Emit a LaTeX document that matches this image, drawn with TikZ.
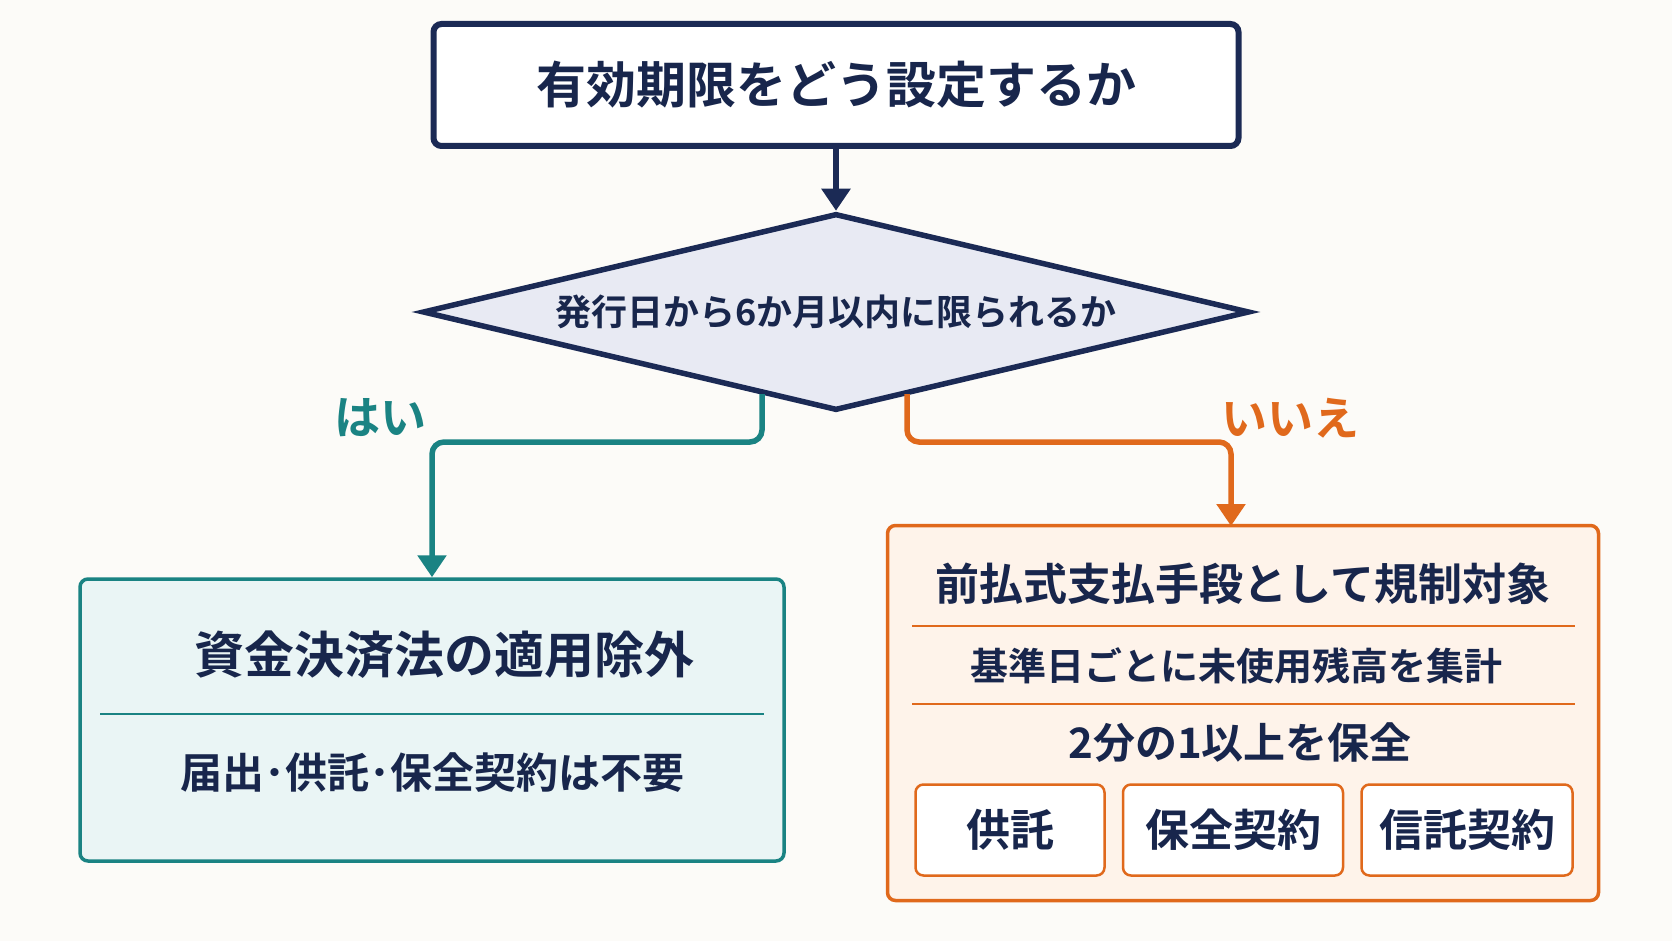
\documentclass[tikz,border=0pt]{standalone}
\usepackage{fontspec}
\setmainfont{Noto Sans CJK JP}[BoldFont={* Bold}]
\usetikzlibrary{shapes.geometric,arrows.meta}
\definecolor{navy}{HTML}{1B2A55}
\definecolor{teal1}{HTML}{1A8383}
\definecolor{orng}{HTML}{E0691C}
\definecolor{bg}{HTML}{FCFBF8}
\definecolor{tfill}{HTML}{EAF5F5}
\definecolor{ofill}{HTML}{FEF3EA}
\definecolor{dfill}{HTML}{E8EAF3}
\begin{document}
\begin{tikzpicture}[x=1pt,y=-1pt,
  txt/.style={font=\bfseries\fontsize{#1}{#1}\selectfont,text=navy!90!black},
  sm/.style={draw=orng,line width=2.5pt,fill=white,rounded corners=8pt,minimum height=91pt,inner sep=0pt},
  arr/.style={line width=5.5pt,-{Triangle[length=22pt,width=28pt]},rounded corners=12pt}]
\fill[bg] (0,0) rectangle (1672,941);
\useasboundingbox (0,0) rectangle (1672,941);
\node[draw=navy,line width=6pt,fill=white,rounded corners=8pt,minimum width=805pt,minimum height=122pt,txt=50] (top) at (836,85) {有効期限をどう設定するか};
\node[diamond,draw=navy,line width=5.5pt,fill=dfill,minimum width=827pt,minimum height=197pt,inner sep=0pt,aspect=4.2] (dia) at (836,312) {};
\node[txt=36] at (836,312) {発行日から6か月以内に限られるか};
\node[draw=teal1,line width=3.5pt,fill=tfill,rounded corners=8pt,minimum width=704pt,minimum height=282pt] (tbox) at (432,720) {};
\draw[teal1,line width=2.5pt] (100,714) -- (764,714);
\node[txt=50] (t1) at (444,655) {資金決済法の適用除外};
\node[txt=42] (t2) at (432,773) {届出･供託･保全契約は不要};
\node[draw=orng,line width=3.5pt,fill=ofill,rounded corners=8pt,minimum width=711pt,minimum height=375pt] (obox) at (1243,713) {};
\draw[orng,line width=2.5pt] (912,626) -- (1575,626);
\draw[orng,line width=2.5pt] (912,704) -- (1575,704);
\node[txt=44] (o1) at (1243,584) {前払式支払手段として規制対象};
\node[txt=38] (o2) at (1236,666) {基準日ごとに未使用残高を集計};
\node[txt=42] (o3) at (1240,743) {2分の1以上を保全};
\node[sm,minimum width=189pt,txt=44] (s1) at (1010,830) {供託};
\node[sm,minimum width=220pt,txt=44] (s2) at (1233,830) {保全契約};
\node[sm,minimum width=211pt,txt=44] (s3) at (1467,830) {信託契約};
\draw[arr,navy] (top.south) -- (dia.north);
\coordinate (ts) at (762,394);
\coordinate (os) at (907,394);
\draw[arr,teal1] (ts) -- (762,442) -- (432,442) -- (tbox.north);
\draw[arr,orng] (os) -- (907,442) -- (1231,442) -- (1231,526);
\node[txt=46,text=teal1] (yes) at (380,418) {はい};
\node[txt=46,text=orng] (no) at (1290,418) {いいえ};
\end{tikzpicture}
\end{document}
